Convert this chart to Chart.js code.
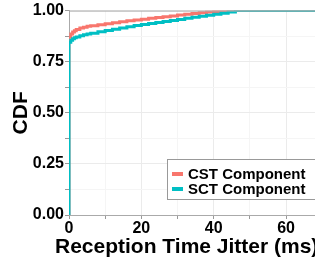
<!DOCTYPE html>
<html><head><meta charset="utf-8">
<script src="https://cdn.jsdelivr.net/npm/chart.js@4/dist/chart.umd.min.js"></script>
<style>html,body{margin:0;padding:0;background:#fff}#wrap{width:315px;height:260px;position:relative}</style>
</head><body><div id="wrap"><canvas id="c" width="315" height="260"></canvas></div>
<script>
const seriesNames = ["CST Component", "SCT Component"];
const xTitle = "Reception Time Jitter (ms)";
const yTitle = "CDF";
const cstX = [0, 0, 0.5, 1, 1.5, 2, 3, 4, 5, 6, 8, 10, 12, 14, 16, 18, 20, 22, 24, 26, 28, 30, 32, 34, 36, 38, 40, 42, 43, 68];
const cstY = [0, 0.87, 0.885, 0.895, 0.902, 0.907, 0.915, 0.919, 0.923, 0.926, 0.931, 0.936, 0.941, 0.946, 0.95, 0.954, 0.958, 0.962, 0.966, 0.97, 0.974, 0.978, 0.982, 0.986, 0.99, 0.993, 0.996, 0.998, 1, 1];
const sctX = [0, 0, 0.5, 1, 1.5, 2, 3, 4, 5, 6, 8, 10, 12, 14, 16, 18, 20, 22, 24, 26, 28, 30, 32, 34, 36, 38, 40, 42, 44, 46, 68];
const sctY = [0, 0.845, 0.855, 0.862, 0.867, 0.871, 0.877, 0.882, 0.886, 0.889, 0.896, 0.903, 0.909, 0.915, 0.921, 0.927, 0.932, 0.937, 0.942, 0.947, 0.952, 0.957, 0.962, 0.967, 0.972, 0.977, 0.982, 0.987, 0.993, 1, 1];
const xTicks = [0, 20, 40, 60];
const yTicks = [0, 0.25, 0.5, 0.75, 1.0];
const colors = ["#F8766D", "#00BFC4"];

const toPts = (xs, ys) => xs.map((x, i) => ({x: x, y: ys[i]}));
const F = "'Liberation Sans', Arial, sans-serif";

const legendPlugin = {
  id: 'customLegend',
  afterDatasetsDraw(chart) {
    const ctx = chart.ctx;
    ctx.save();
    const a = chart.chartArea;
    ctx.strokeStyle = '#aaaaaa'; ctx.lineWidth = 1;
    ctx.beginPath(); ctx.moveTo(a.left, a.top + 0.5); ctx.lineTo(a.right, a.top + 0.5); ctx.stroke();
    ctx.restore();
  },
  afterDraw(chart) {
    const ctx = chart.ctx;
    ctx.save();
    // x axis title (not squeezed to chart width)
    ctx.font = "bold 21px " + F;
    ctx.fillStyle = '#000';
    ctx.textAlign = 'left';
    ctx.textBaseline = 'alphabetic';
    ctx.fillText(xTitle, 55, 253);
    // legend
    const bx = 167.5, by = 159.5, bw = 160, bh = 40;
    ctx.fillStyle = '#fff';
    ctx.fillRect(bx, by, bw, bh);
    ctx.strokeStyle = '#999'; ctx.lineWidth = 1;
    ctx.strokeRect(bx, by, bw, bh);
    ctx.font = "bold 15px " + F;
    ctx.textBaseline = 'middle';
    const rows = [174, 189];
    seriesNames.forEach((n, i) => {
      ctx.strokeStyle = colors[i]; ctx.lineWidth = 4;
      ctx.beginPath(); ctx.moveTo(172, rows[i]); ctx.lineTo(183, rows[i]); ctx.stroke();
      ctx.fillStyle = '#000';
      ctx.fillText(n, 188, rows[i] + 1);
    });
    ctx.restore();
  }
};

new Chart(document.getElementById('c'), {
  type: 'line',
  data: {
    datasets: [
      {label: seriesNames[0], data: toPts(cstX, cstY), borderColor: colors[0], borderWidth: 3, pointRadius: 0, stepped: true, fill: false, order: 2},
      {label: seriesNames[1], data: toPts(sctX, sctY), borderColor: colors[1], borderWidth: 3, pointRadius: 0, stepped: true, fill: false, order: 1}
    ]
  },
  options: {
    responsive: false,
    animation: false,
    devicePixelRatio: 1,
    layout: {padding: {top: 8, right: 0, left: 0, bottom: 0}},
    plugins: {legend: {display: false}, tooltip: {enabled: false}},
    scales: {
      x: {
        type: 'linear', min: 0, max: 68,
        afterFit(s) { s.height = 45; },
        afterBuildTicks(s) { const t = []; for (let v = 0; v <= 60; v += 10) t.push({value: v}); s.ticks = t; },
        ticks: {color: '#000', font: {family: F, weight: 'bold', size: 16}, padding: 0, maxRotation: 0, autoSkip: false,
          callback: v => xTicks.includes(v) ? String(v) : ''},
        grid: {color: ctx => (ctx.tick && xTicks.includes(ctx.tick.value)) ? '#ebebeb' : '#f5f5f5', tickColor: '#999', tickLength: 4, drawTicks: true},
        border: {color: '#aaaaaa', width: 1},
        title: {display: false}
      },
      y: {
        type: 'linear', min: 0, max: 1,
        afterFit(s) { s.width = 69; },
        afterBuildTicks(s) { const t = []; for (let v = 0; v <= 8; v++) t.push({value: v * 0.125}); s.ticks = t; },
        ticks: {color: '#000', font: {family: F, weight: 'bold', size: 16}, padding: 1, autoSkip: false,
          callback: v => yTicks.some(t => Math.abs(t - v) < 1e-9) ? v.toFixed(2) : ''},
        grid: {color: ctx => (ctx.tick && yTicks.some(t => Math.abs(t - ctx.tick.value) < 1e-9)) ? '#ebebeb' : '#f5f5f5', tickColor: '#999', tickLength: 4},
        border: {color: '#aaaaaa', width: 1},
        title: {display: true, text: yTitle, color: '#000', font: {family: F, weight: 'bold', size: 21}, padding: {top: 9, bottom: 0}}
      }
    }
  },
  plugins: [legendPlugin]
});
</script></body></html>
